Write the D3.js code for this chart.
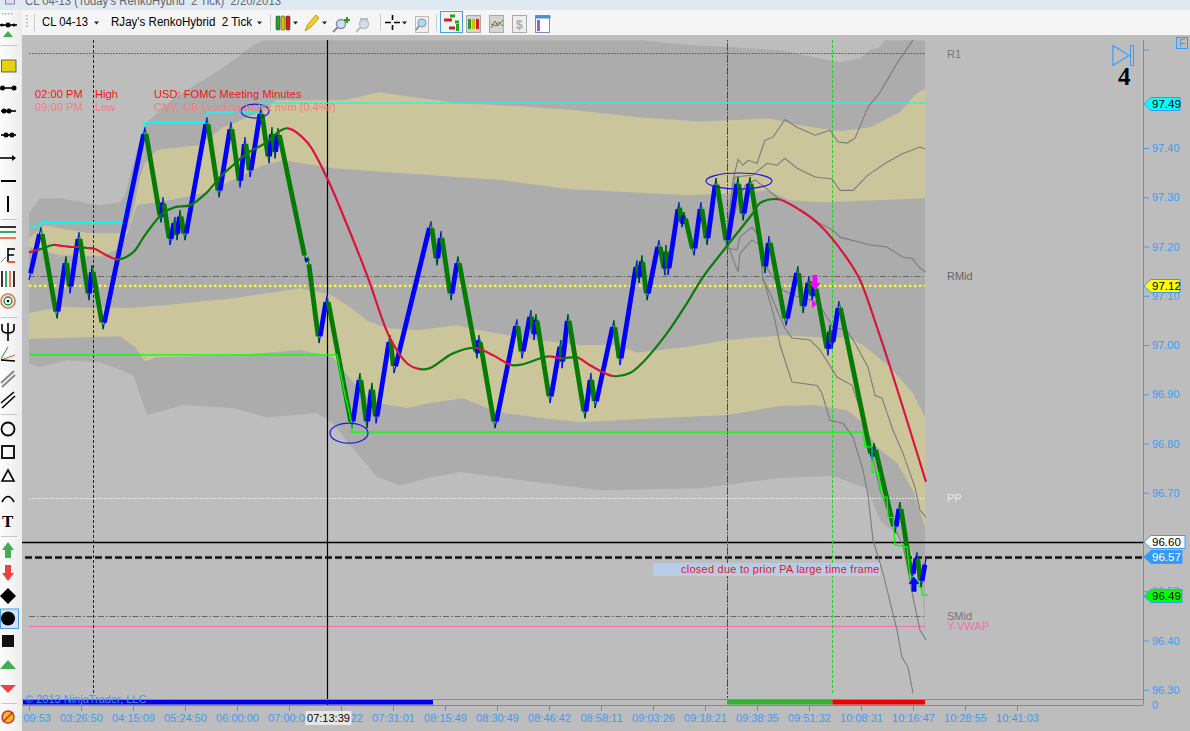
<!DOCTYPE html>
<html><head><meta charset="utf-8">
<script src="https://cdn.jsdelivr.net/npm/d3@7"></script>
<style>
html,body{margin:0;padding:0;background:#bdbdbd;overflow:hidden}
svg{display:block}
text{font-family:"Liberation Sans",Arial,sans-serif}
</style></head><body><svg id="c" width="1190" height="731"></svg>
<script>
// ---- time axis ----
const timeLabels=["03:09:53","03:26:50","04:15:09","05:24:50","06:00:00","07:00:00","07:10:22","07:31:01","08:15:49","08:30:49","08:46:42","08:58:11","09:03:26","09:18:21","09:38:35","09:51:32","10:08:31","10:16:47","10:28:55","10:41:03"];
const priceTicks=[96.30,96.40,96.50,96.70,96.80,96.90,97.00,97.10,97.20,97.30,97.40,97.60];
// ---- Renko swing pivots [bar, price] ----
const renko=[[0,97.132],[12,97.239],[28,97.054],[37,97.180],[41,97.105],[50,97.229],[60,97.091],[63,97.162],[74,97.032],[116,97.442],[132,97.249],[134,97.300],[141,97.203],[146,97.260],[148,97.213],[151,97.274],[156,97.213],[178,97.462],[190,97.300],[202,97.452],[211,97.320],[216,97.422],[221,97.341],[232,97.483],[240,97.369],[243,97.442],[246,97.379],[249,97.440],[277,97.168],[279,97.178],[290,97.004],[298,97.101],[323,96.831],[331,96.943],[338,96.831],[343,96.923],[347,96.841],[361,97.020],[365,96.943],[402,97.251],[408,97.162],[412,97.231],[422,97.091],[429,97.180],[448,96.973],[450,97.020],[466,96.831],[488,97.052],[493,96.973],[502,97.071],[505,97.010],[507,97.063],[521,96.882],[532,97.010],[533,96.953],[539,97.063],[556,96.851],[562,96.943],[566,96.872],[585,97.050],[591,96.959],[608,97.172],[610,97.126],[613,97.182],[618,97.091],[630,97.213],[636,97.142],[637,97.203],[639,97.142],[650,97.290],[653,97.239],[655,97.270],[665,97.182],[672,97.290],[678,97.203],[687,97.339],[698,97.199],[709,97.341],[714,97.253],[721,97.341],[736,97.146],[740,97.221],[757,97.040],[769,97.160],[774,97.065],[780,97.140],[783,97.091],[786,97.128],[799,96.979],[801,97.040],[803,96.992],[810,97.089],[843,96.766],[845,96.801],[866,96.618],[871,96.681],[883,96.523],[888,96.579],[892,96.508],[897,96.567]];
// ---- moving average ----
const ma=[[0,97.188],[8,97.193],[15,97.197],[24,97.203],[34,97.201],[43,97.199],[49,97.199],[58,97.197],[66,97.195],[76,97.184],[89,97.174],[104,97.188],[114,97.217],[121,97.237],[134,97.268],[146,97.280],[161,97.284],[178,97.310],[191,97.341],[204,97.365],[218,97.389],[238,97.412],[249,97.432],[259,97.440],[278,97.412],[298,97.339],[314,97.264],[338,97.142],[361,97.014],[378,96.963],[391,96.951],[401,96.953],[424,96.983],[446,96.994],[464,96.979],[483,96.959],[494,96.961],[519,96.977],[533,96.973],[548,96.975],[561,96.959],[584,96.937],[601,96.943],[614,96.965],[638,97.024],[658,97.085],[674,97.138],[698,97.201],[724,97.268],[731,97.288],[749,97.296],[771,97.274],[791,97.243],[818,97.176],[831,97.132],[848,97.036],[859,96.969],[881,96.827],[897,96.722]];
const maRedRanges=[[-2,8],[24,49],[58,89],[259,391],[446,483],[519,533],[548,584],[749,899]];
const maGreenRanges=[[8,24],[49,58],[89,259],[391,446],[483,519],[533,548],[584,749]];
// ---- band edges [bar, price] ----
const bandA=[[0,97.268],[11,97.298],[31,97.298],[71,97.284],[91,97.290],[96,97.304],[101,97.345],[116,97.450],[146,97.503],[178,97.542],[193,97.562],[225,97.609],[235,97.619],[611,97.619],[661,97.609],[751,97.599],[771,97.590],[811,97.574],[831,97.582],[841,97.599],[851,97.605],[856,97.619],[896,97.619]];
const bandB=[[0,97.217],[16,97.243],[31,97.237],[61,97.227],[93,97.227],[99,97.233],[104,97.268],[111,97.341],[116,97.369],[128,97.396],[171,97.406],[194,97.442],[204,97.450],[231,97.473],[247,97.497],[269,97.497],[315,97.497],[350,97.513],[392,97.501],[430,97.491],[491,97.485],[545,97.477],[611,97.462],[671,97.454],[741,97.460],[771,97.446],[811,97.434],[841,97.442],[871,97.473],[886,97.507],[896,97.521]];
const bandC=[[0,97.199],[31,97.182],[71,97.180],[88,97.193],[99,97.229],[108,97.284],[119,97.288],[141,97.294],[178,97.310],[204,97.335],[234,97.365],[254,97.375],[304,97.359],[371,97.349],[471,97.335],[541,97.316],[601,97.310],[661,97.304],[711,97.308],[738,97.314],[761,97.294],[794,97.290],[848,97.294],[896,97.298]];
const bandD=[[0,97.065],[31,97.077],[101,97.075],[138,97.081],[204,97.095],[271,97.115],[301,97.103],[321,97.077],[338,97.050],[358,97.034],[388,97.030],[428,97.040],[461,97.026],[508,97.010],[551,97.000],[588,97.000],[608,96.985],[658,96.996],[698,97.010],[754,97.020],[804,97.014],[818,97.016],[834,97.000],[861,96.955],[884,96.902],[896,96.853]];
const bandE=[[0,97.012],[31,97.014],[91,97.018],[106,96.996],[116,96.967],[128,96.975],[204,96.979],[271,96.990],[304,96.975],[324,96.925],[344,96.884],[378,96.872],[401,96.882],[434,96.892],[468,96.864],[508,96.853],[551,96.843],[621,96.851],[698,96.858],[751,96.876],[784,96.878],[818,96.868],[831,96.847],[848,96.793],[868,96.760],[884,96.705],[896,96.630]];
const bandF=[[0,96.963],[11,96.955],[38,96.969],[71,96.965],[104,96.939],[118,96.858],[154,96.878],[204,96.872],[238,96.853],[288,96.862],[304,96.841],[321,96.797],[348,96.732],[371,96.715],[404,96.732],[431,96.742],[491,96.726],[571,96.705],[671,96.709],[751,96.730],[804,96.734],[838,96.709],[851,96.644],[871,96.610],[884,96.577],[894,96.502],[896,96.401]];
// ---- thin grey lines ----
const grey1=[[698,97.229],[704,97.335],[709,97.377],[714,97.365],[719,97.375],[728,97.369],[736,97.416],[744,97.422],[756,97.458],[768,97.442],[786,97.426],[801,97.436],[809,97.412],[818,97.410],[826,97.420],[839,97.483],[851,97.513],[868,97.572],[884,97.619]];
const grey2=[[699,97.239],[706,97.341],[724,97.345],[738,97.369],[748,97.365],[756,97.379],[768,97.359],[786,97.341],[803,97.337],[811,97.314],[824,97.314],[839,97.345],[858,97.371],[874,97.389],[891,97.402],[896,97.398]];
const grey3=[[698,97.213],[708,97.284],[716,97.324],[726,97.335],[736,97.320],[749,97.298],[771,97.274],[789,97.249],[804,97.233],[811,97.219],[841,97.203],[858,97.199],[874,97.178],[883,97.176],[891,97.156],[897,97.148]];
const grey4=[[698,97.197],[708,97.193],[711,97.219],[723,97.239],[731,97.219],[739,97.152],[754,97.111],[764,97.101],[789,97.087],[804,97.036],[818,97.030],[826,97.004],[839,96.955],[846,96.898],[853,96.892],[864,96.827],[874,96.780],[886,96.711],[891,96.665],[897,96.650]];
const grey5=[[698,97.207],[709,97.148],[711,97.186],[723,97.213],[731,97.203],[734,97.132],[741,97.105],[748,97.071],[756,97.034],[763,97.014],[781,97.010],[791,96.990],[808,96.935],[823,96.918],[833,96.858],[841,96.797],[851,96.705],[864,96.634],[874,96.594],[884,96.488],[891,96.421],[897,96.401]];
const grey6=[[734,97.138],[746,97.050],[751,97.000],[763,96.925],[788,96.918],[793,96.902],[801,96.847],[814,96.841],[824,96.813],[834,96.746],[839,96.695],[844,96.604],[854,96.537],[868,96.421],[873,96.366],[879,96.346],[884,96.293]];
// ---- trailing stops ----
const cyanTrail=[[1,97.24],[12,97.24],[12,97.249],[94,97.249],[116,97.452],[178,97.452],[178,97.473],[232,97.473],[232,97.491],[898,97.491]];
const greenTrail=[[1,96.98],[308,96.98],[311,96.947],[316,96.898],[323,96.84],[323,96.823],[834,96.823],[836,96.793],[843,96.793],[843,96.742],[849,96.742],[853,96.691],[858,96.691],[859,96.650],[864,96.650],[866,96.594],[878,96.590],[881,96.529],[884,96.529],[893,96.502],[893,96.492],[899,96.492]];
// ---- levels ----
const levelR1=97.592, levelRMid=97.141, levelYellow=97.12, levelPP=96.69, levelBlack=96.60, levelLast=96.57, levelSMid=96.449, levelVwap=96.429;
const vLines=[{bar:64.5,c:"#1010c0",d:"3 2"},{bar:298.5,c:"#000",d:null},{bar:698,c:"#d02020",d:"2 1"},{bar:803.5,c:"#20d020",d:"3 2"}];
const ellipses=[[320,96.821,19,10],[710,97.333,33,8],[226,97.475,14,7]];
const flags=[{p:97.49,t:"97.49",f:"#00ffff",tc:"#000",w:36},{p:97.12,t:"97.12",f:"#ffff00",tc:"#000",w:36},{p:96.60,t:"96.60",f:"#fff",tc:"#000",w:41},{p:96.57,t:"96.57",f:"#3399ff",tc:"#fff",w:38},{p:96.49,t:"96.49",f:"#00ff00",tc:"#000",w:38}];
const sessionBars=[{a:-6,b:404,c:"#0000f0"},{a:698,b:803.5,c:"#32b432"},{a:803.5,b:896,c:"#f00000"}];

const svg=d3.select("#c");
const AX="#3b9cf2";
const x=d3.scaleLinear().domain([0,988]).range([29,1017]);
const y=d3.scaleLinear().domain([96.3,97.4]).range([689.75,148]);
const P=d=>[x(d[0]),y(d[1])];
const line=d3.line().x(d=>x(d[0])).y(d=>y(d[1]));
const smooth=d3.line().x(d=>x(d[0])).y(d=>y(d[1])).curve(d3.curveCatmullRom.alpha(.5));

// background
svg.append("rect").attr("width",1190).attr("height",731).attr("fill","#bdbdbd");
const g=svg.append("g");
// bands
const poly=(top,bot,f)=>g.append("path").attr("d",line(top.concat(bot.slice().reverse()))+"Z").attr("fill",f);
poly(bandA,bandF,"#acacac");
poly(bandB,bandC,"#cbc59b");
poly(bandD,bandE,"#cbc59b");

// horizontal levels
const hl=(p,x0,x1,c,w,d)=>g.append("line").attr("x1",x0).attr("x2",x1).attr("y1",Math.round(y(p))+.5).attr("y2",Math.round(y(p))+.5).attr("stroke",c).attr("stroke-width",w).attr("stroke-dasharray",d);
hl(levelR1,x(0),x(896),"#555",1,"1.5 1.5");
hl(levelRMid,x(0),x(896),"#666",1,"6 2 1.5 2");
hl(levelPP,x(0),x(896),"#f4f4f4",1,"1.5 1.5");
hl(levelSMid,x(0),x(896),"#666",1,"6 2 1.5 2");
hl(levelVwap,x(0),x(896),"#e873ac",1,null);
hl(levelBlack,22,1143,"#000",1.3,null);
hl(levelLast,25,1143,"#909090",3.4,"7 3");
hl(levelLast,25,1143,"#000",2,"7 3");

// vertical lines
vLines.forEach(v=>{
  const X=Math.floor(x(v.bar))+.5;
  if(v.c==="#d02020") g.append("line").attr("x1",X).attr("x2",X).attr("y1",40).attr("y2",699).attr("stroke","#333").attr("stroke-dasharray","2 2");
  g.append("line").attr("x1",X).attr("x2",X).attr("y1",40).attr("y2",v.c==="#000"?705:694).attr("stroke",v.c).attr("stroke-width",v.c==="#000"?1.2:1).attr("stroke-dasharray",v.d);
});
// yellow pivot line
g.append("line").attr("x1",x(0)).attr("x2",x(896)).attr("y1",y(levelYellow)).attr("y2",y(levelYellow)).attr("stroke","#ffff1a").attr("stroke-width",2.4).attr("stroke-dasharray","2.4 2.6");

// cyan trail
g.append("path").attr("d",line(cyanTrail)).attr("fill","none").attr("stroke","#00ffff").attr("stroke-width",1.2);

// thin grey lines
[grey1,grey2,grey3,grey4,grey5,grey6].forEach(s=>g.append("path").attr("d",line(s)).attr("fill","none").attr("stroke","#7c7c7c").attr("stroke-width",1.1));

// Renko legs
renko.slice(1).forEach((d,i)=>{
  const a=P(renko[i]),b=P(d),up=d[1]>renko[i][1],col=up?"#0000ff":"#047c04";
  const len=Math.hypot(b[0]-a[0],b[1]-a[1]),ins=Math.min(7,len*.22);
  g.append("line").attr("x1",a[0]).attr("y1",a[1]).attr("x2",b[0]).attr("y2",b[1]).attr("stroke",col).attr("stroke-width",1.2);
  g.append("line").attr("x1",a[0]).attr("y1",a[1]).attr("x2",b[0]).attr("y2",b[1]).attr("stroke",col).attr("stroke-width",4.8).attr("stroke-dasharray",`0 ${ins} ${len-2*ins} ${ins}`);
});

// MA: one smooth line, clipped into red and green stretches
const defs=svg.append("defs");
const mkClip=(id,ranges)=>{const c=defs.append("clipPath").attr("id",id);ranges.forEach(r=>c.append("rect").attr("x",x(r[0])).attr("y",0).attr("width",x(r[1])-x(r[0])).attr("height",731));};
mkClip("maRed",maRedRanges);mkClip("maGreen",maGreenRanges);
g.append("path").attr("d",smooth(ma)).attr("fill","none").attr("stroke","#0b7d0b").attr("stroke-width",2.2).attr("clip-path","url(#maGreen)");
g.append("path").attr("d",smooth(ma)).attr("fill","none").attr("stroke","#dc143c").attr("stroke-width",2.2).attr("clip-path","url(#maRed)");

// green trail
g.append("path").attr("d",line(greenTrail)).attr("fill","none").attr("stroke","#00ff00").attr("stroke-width",1.3);

// ellipses
ellipses.forEach(e=>g.append("ellipse").attr("cx",x(e[0])).attr("cy",y(e[1])).attr("rx",e[2]).attr("ry",e[3]).attr("fill","none").attr("stroke","#1818e0").attr("stroke-width",1.2));

// arrows
const arrow=(bar,price,fill,dir)=>{
  const X=x(bar),Y=y(price),s=dir;
  g.append("path").attr("d",`M${X-2.5},${Y-8*s}L${X+2.5},${Y-8*s}L${X+2.5},${Y}L${X+5.5},${Y}L${X},${Y+7*s}L${X-5.5},${Y}L${X-2.5},${Y}Z`).attr("fill",fill);
};
arrow(786,97.126,"#ff00ff",1);
g.append("path").attr("d",`M${x(783)},${y(97.091)}L${x(788)},${y(97.083)}L${x(783)},${y(97.075)}Z`).attr("fill","#ff00ff");
arrow(885,96.515,"#0000ff",-1);

// annotation box
g.append("rect").attr("x",653).attr("y",563).attr("width",227).attr("height",13).attr("fill","#b5cde6");
g.append("text").attr("x",681).attr("y",573).attr("font-size",11).attr("letter-spacing",.24).attr("fill","#e8142c").text("closed due to prior PA large time frame");

// level labels
[["R1",53.5,"#777"],["RMid",276,"#666"],["PP",498,"#e8e8e8"],["SMid",616,"#777"],["Y-VWAP",626,"#e873ac"]].forEach(l=>
  g.append("text").attr("x",947).attr("y",l[1]+4).attr("font-size",11).attr("fill",l[2]).text(l[0]));

// news text
[[35,"02:00 PM"],[95,"High"],[154,"USD: FOMC Meeting Minutes"]].forEach(t=>g.append("text").attr("x",t[0]).attr("y",98).attr("font-size",11).attr("letter-spacing",.08).attr("fill","#f01414").text(t[1]));
[[35,"09:00 PM"],[95,"Low"],[154,"CNY: CB Leading Index m/m (0.4%/)"]].forEach(t=>g.append("text").attr("x",t[0]).attr("y",111).attr("font-size",11).attr("letter-spacing",.08).attr("fill","#ef8080").text(t[1]));

// session bars
sessionBars.forEach(s=>g.append("rect").attr("x",x(s.a)).attr("y",700).attr("width",x(s.b)-x(s.a)).attr("height",4.5).attr("fill",s.c));
g.append("text").attr("x",25).attr("y",703).attr("font-size",11).attr("fill",AX).text("© 2013 NinjaTrader, LLC");

// time axis
const xt=d3.scalePoint().domain(timeLabels).range([29,1017]);
const axB=g.append("g").attr("transform","translate(0,705)").call(d3.axisBottom(xt).tickSize(6).tickPadding(3));
axB.select(".domain").remove();
axB.selectAll("line").attr("stroke",AX);
axB.selectAll("text").attr("fill",AX).attr("font-size",11).style("font-family",'"Liberation Sans",Arial,sans-serif');
g.append("line").attr("x1",22).attr("x2",1143).attr("y1",699.5).attr("y2",699.5).attr("stroke",AX);
g.append("line").attr("x1",22).attr("x2",1143).attr("y1",705.5).attr("y2",705.5).attr("stroke",AX);
// cursor time label
g.append("rect").attr("x",x(298.5)-22).attr("y",711).attr("width",46).attr("height",14).attr("fill","#e6e6e6");
g.append("text").attr("x",x(298.5)+1).attr("y",722).attr("text-anchor","middle").attr("font-size",11).attr("fill","#000").text("07:13:39");

// price axis
const axR=g.append("g").attr("transform","translate(1143,0)").call(d3.axisRight(y).tickValues(priceTicks).tickFormat(d=>d===97.60?"":d3.format(".2f")(d)).tickSize(6).tickPadding(3));
axR.select(".domain").remove();
axR.selectAll("line").attr("stroke",AX);
axR.selectAll("text").attr("fill",AX).attr("font-size",11).style("font-family",'"Liberation Sans",Arial,sans-serif');
g.append("line").attr("x1",1143.5).attr("x2",1143.5).attr("y1",40).attr("y2",705).attr("stroke",AX);
g.append("text").attr("x",1152).attr("y",709).attr("font-size",11).attr("fill",AX).text("0");
// flags
flags.forEach(f=>{
  const Y=Math.round(y(f.p)),h=6.5,X=1144;
  g.append("path").attr("d",`M${X},${Y}L${X+7},${Y-h}L${X+f.w},${Y-h}L${X+f.w},${Y+h}L${X+7},${Y+h}Z`).attr("fill",f.f).attr("stroke",AX);
  g.append("text").attr("x",X+8).attr("y",Y+4).attr("font-size",11.5).attr("fill",f.tc).text(f.t);
});
// top right decorations
g.append("path").attr("d","M1113,45.5L1129,55.5L1113,65.5Z").attr("fill","none").attr("stroke",AX).attr("stroke-width",1.2);
g.append("rect").attr("x",1130.5).attr("y",45.5).attr("width",3).attr("height",20).attr("fill","none").attr("stroke",AX);
g.append("text").attr("x",1118).attr("y",85).attr("font-size",25).attr("font-weight","bold").style("font-family","'Liberation Serif',serif").attr("fill","#000").text("4");
g.append("rect").attr("x",1176.5).attr("y",37.5).attr("width",11).attr("height",11).attr("fill","none").attr("stroke",AX);
g.append("text").attr("x",1179).attr("y",47).attr("font-size",10).attr("fill",AX).text("F");

// ---- chrome: toolbars ----
const ui=svg.append("g");
const grad=defs.append("linearGradient").attr("id","tb").attr("x1",0).attr("x2",1).attr("y1",0).attr("y2",0);
grad.append("stop").attr("offset",0).attr("stop-color","#fdfdfd");grad.append("stop").attr("offset",1).attr("stop-color","#ececec");
ui.append("rect").attr("x",0).attr("y",0).attr("width",1190).attr("height",10).attr("fill","#dfe9f4");
ui.append("rect").attr("x",0).attr("y",10).attr("width",1190).attr("height",25).attr("fill","#f5f5f5");
ui.append("rect").attr("x",0).attr("y",10).attr("width",22).attr("height",721).attr("fill","url(#tb)");
ui.append("text").attr("x",25).attr("y",5).attr("font-size",12).attr("fill","#666").attr("textLength",256).attr("lengthAdjust","spacingAndGlyphs").text("CL 04-13 (Today's RenkoHybrid\u00a0\u00a02 Tick)\u00a0\u00a02/20/2013");
ui.append("rect").attr("x",5.5).attr("y",-3).attr("width",9).attr("height",7).attr("fill","#dde").attr("stroke","#88a");
const T=(xx,yy,t,o={})=>ui.append("text").attr("x",xx).attr("y",yy).attr("font-size",o.s||12).attr("font-weight",o.b||null).attr("fill",o.c||"#000").style("font-family",o.f||null).text(t);
T(42,26,"CL 04-13").attr("textLength",46).attr("lengthAdjust","spacingAndGlyphs");
T(111,26,"RJay's RenkoHybrid\u00a0\u00a02 Tick").attr("textLength",141).attr("lengthAdjust","spacingAndGlyphs");
const caret=(xx,yy)=>ui.append("path").attr("d",`M${xx},${yy}l5,0l-2.5,3Z`).attr("fill","#222");
[94,257,293,322,402].forEach(c=>caret(c,21.5));
[[34,14,31],[270,14,31],[380,14,31],[436,14,31]].forEach(s=>ui.append("line").attr("x1",s[0]+.5).attr("x2",s[0]+.5).attr("y1",s[1]).attr("y2",s[2]).attr("stroke","#ccc"));
for(let i=0;i<4;i++) ui.append("rect").attr("x",26).attr("y",15+i*3.5).attr("width",1.5).attr("height",1.5).attr("fill","#aaa");
// candle icon
[["#2aa02a",276],["#d4c000",281],["#d02020",286]].forEach(c=>{ui.append("rect").attr("x",c[1]).attr("y",16).attr("width",4).attr("height",14).attr("rx",1).attr("fill",c[0]).attr("stroke","#333").attr("stroke-width",.5);});
// pencil
ui.append("path").attr("d","M305,31L308,24L316,15L319,18L311,27Z").attr("fill","#f0d020").attr("stroke","#a08000").attr("stroke-width",.7);
// zoom icons
[[338,"#88a"],[361,"#bbb"]].forEach(z=>{ui.append("circle").attr("cx",z[0]+3).attr("cy",24).attr("r",4.5).attr("fill","#cfe0f2").attr("stroke",z[1]).attr("stroke-width",1.4);ui.append("line").attr("x1",z[0]).attr("y1",27).attr("x2",z[0]-5).attr("y2",32).attr("stroke",z[1]).attr("stroke-width",2);});
ui.append("path").attr("d","M344,20h6M347,17v6").attr("stroke","#20a020").attr("stroke-width",2);
ui.append("path").attr("d","M360,19h8").attr("stroke","#bbb").attr("stroke-width",2);
// cross
ui.append("path").attr("d","M385,22.5h6M394,22.5h6M392.5,15v5M392.5,25v5").attr("stroke","#000").attr("stroke-width",1.6);
// magnifier box
ui.append("rect").attr("x",415.5).attr("y",16.5).attr("width",13).attr("height",16).attr("fill","#eee").attr("stroke","#bbb");
ui.append("circle").attr("cx",422).attr("cy",23).attr("r",4).attr("fill","#b9d5ee").attr("stroke","#79a");
ui.append("line").attr("x1",419).attr("y1",26).attr("x2",416).attr("y2",30).attr("stroke","#888").attr("stroke-width",1.5);
// selected icon
ui.append("rect").attr("x",440.5).attr("y",11.5).attr("width",22).attr("height",21).attr("fill","#f2f2f2").attr("stroke","#4a9be0");
ui.append("path").attr("d","M444,20h8").attr("stroke","#d02020").attr("stroke-width",3);
ui.append("path").attr("d","M449,28h6").attr("stroke","#d02020").attr("stroke-width",3);
ui.append("path").attr("d","M450,16h5M455,22h4").attr("stroke","#2aa02a").attr("stroke-width",3);
ui.append("rect").attr("x",456).attr("y",24).attr("width",3).attr("height",7).attr("fill","#2aa02a");
// other toolbar icons
[[466,"#555"],[489,"#777"],[512,"#bbb"],[535,"#8a8ac0"]].forEach((b,i)=>{
  ui.append("rect").attr("x",b[0]+.5).attr("y",15.5).attr("width",14).attr("height",17).attr("fill",i==3?"#fff":i==2?"#eee":"#d4d4d4").attr("stroke",i==3?"#88a":"#aaa");
});
[468,472,476].forEach((v,i)=>ui.append("rect").attr("x",v).attr("y",19).attr("width",3).attr("height",10).attr("fill",["#2aa02a","#d4c000","#d02020"][i]));
ui.append("path").attr("d","M491,28L495,21L498,26L503,20").attr("fill","none").attr("stroke","#2aa02a");
ui.append("path").attr("d","M491,24L496,26L499,22L503,26").attr("fill","none").attr("stroke","#d04040");
T(516,29,"$",{s:12,c:"#aaa",b:"bold"});
ui.append("rect").attr("x",535.5).attr("y",15.5).attr("width",15).attr("height",3).attr("fill","#4a90d0");
ui.append("rect").attr("x",537).attr("y",20).attr("width",3).attr("height",11).attr("fill","#9060d0");

// left toolbar
const L=(a,b,c,d,w=1.6,col="#000")=>ui.append("line").attr("x1",a).attr("y1",b).attr("x2",c).attr("y2",d).attr("stroke",col).attr("stroke-width",w);
const dot=(a,b,r=2.5,f="#000")=>ui.append("circle").attr("cx",a).attr("cy",b).attr("r",r).attr("fill",f);
const sep=yy=>L(1,yy+.5,17,yy+.5,1,"#c8c8c8");
for(let i=0;i<4;i++) ui.append("rect").attr("x",2+i*3).attr("y",13).attr("width",1.5).attr("height",1.5).attr("fill","#aaa");
L(0,25,17,25);dot(8,25);dot(2,25,1.6);dot(14,25,1.6);
ui.append("path").attr("d","M3,37L8,31L13,37Z").attr("fill","#3fb050");
sep(45);
ui.append("rect").attr("x",1.5).attr("y",60).attr("width",14.5).attr("height",12).attr("fill","#e8cf10").attr("stroke","#333").attr("stroke-width",.7);
L(1,88,16,88);dot(2.5,88);dot(14,88);
L(1,111,16,111);dot(4,111);dot(9,111);
L(1,135,16,135);dot(6,135);dot(12,135);
L(0,158,14,158);ui.append("path").attr("d","M12,155L16,158L12,161Z");
L(1,181,16,181,2);L(8,196,8,212,2);
sep(219);L(0,227,16,227,1.6);L(0,232,16,232,1.6,"#109050");L(0,238,16,238,1.6,"#e86020");
ui.append("path").attr("d","M8,249h7M8,255h6M8,262h7").attr("stroke","#000").attr("stroke-width",1.6);L(8,248,8,262,1.6);
L(8,262,15,262,2,"#e86020");L(1,262,6,257,1,"#888");
L(2,271,2,287,1.6);L(6,271,6,287,1.6,"#109050");L(10,271,10,287,1.6,"#e86020");L(14,271,14,287,1.6);
ui.append("circle").attr("cx",8).attr("cy",301).attr("r",7).attr("fill","none").attr("stroke","#e87040").attr("stroke-width",1.6);
ui.append("circle").attr("cx",8).attr("cy",301).attr("r",4).attr("fill","none").attr("stroke","#109050").attr("stroke-width",1.4);dot(8,301,1.3);
sep(317);
ui.append("path").attr("d","M2,324v5q0,4,6,4q6,0,6,-4v-5M8,323v18").attr("fill","none").attr("stroke","#000").attr("stroke-width",1.6);
L(1,359,8,347,1,"#109050");L(1,360,15,355,1,"#e86020");L(1,360,15,361,1.3);
L(1,383,14,371,2,"#888");L(2,387,15,375,2,"#888");
L(1,403,14,392,1.6);L(2,408,15,396,1.6);
sep(414);
ui.append("circle").attr("cx",8).attr("cy",429).attr("r",6.5).attr("fill","none").attr("stroke","#000").attr("stroke-width",1.8);
ui.append("rect").attr("x",2).attr("y",446).attr("width",12).attr("height",12).attr("fill","none").attr("stroke","#000").attr("stroke-width",1.8);
ui.append("path").attr("d","M8,470L14,481L2,481Z").attr("fill","none").attr("stroke","#000").attr("stroke-width",1.6);
ui.append("path").attr("d","M2,502Q8,491,14,502").attr("fill","none").attr("stroke","#000").attr("stroke-width",1.6);
ui.append("text").attr("x",2).attr("y",527).attr("font-size",17).attr("font-weight","bold").style("font-family","'Liberation Serif',serif").text("T");
sep(536);
ui.append("path").attr("d","M8,542L14,550L11,550L11,558L5,558L5,550L2,550Z").attr("fill","#3fb050");
ui.append("path").attr("d","M5,565L11,565L11,573L14,573L8,581L2,573L5,573Z").attr("fill","#f04040");
ui.append("path").attr("d","M8,588L16,596L8,604L0,596Z").attr("fill","#000");
ui.append("rect").attr("x",0.5).attr("y",609).attr("width",18).attr("height",19.5).attr("fill","#cfe4f8").attr("stroke","#4a9be0");
dot(8,618.5,7);
ui.append("rect").attr("x",2).attr("y",635).attr("width",12).attr("height",12).attr("fill","#111");
ui.append("path").attr("d","M0,669L8,660L16,669Z").attr("fill","#3fb050");
ui.append("path").attr("d","M0,685L16,685L8,693Z").attr("fill","#f04040");
sep(703);
ui.append("circle").attr("cx",8).attr("cy",717).attr("r",6).attr("fill","#f0c020").attr("stroke","#d03030").attr("stroke-width",1.5);
L(3,722,13,712,1.6,"#d03030");
</script></body></html>
